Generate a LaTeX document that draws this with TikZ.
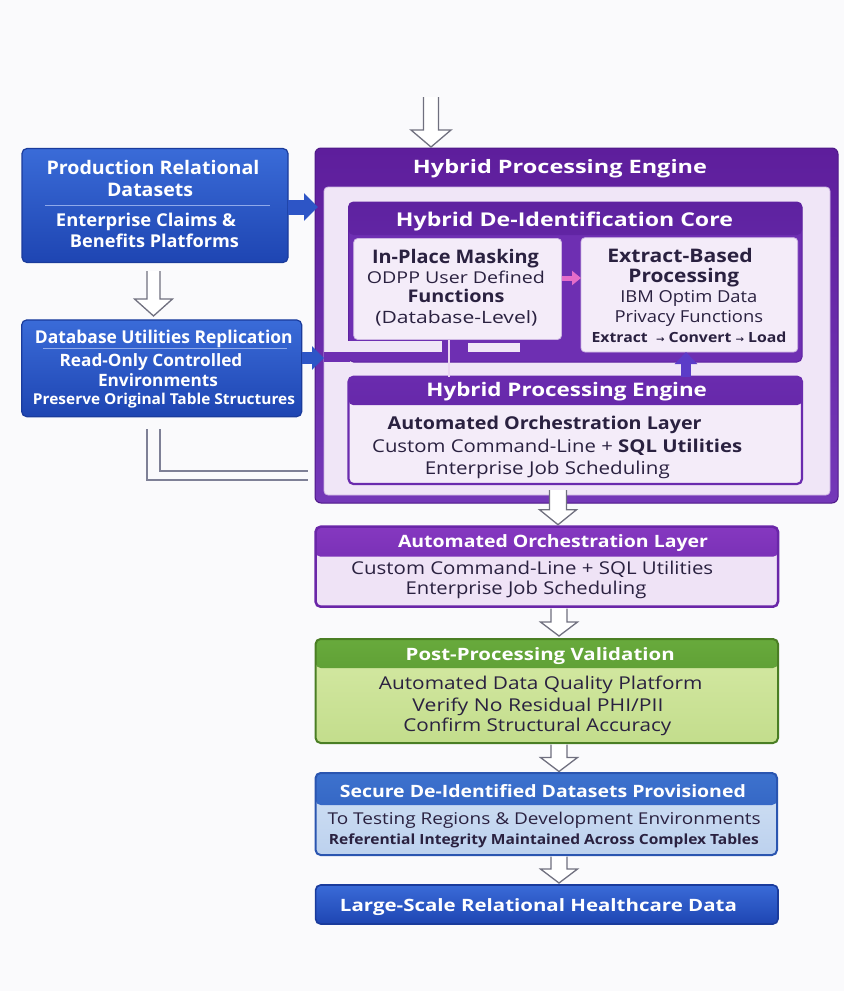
\documentclass[tikz,border=0pt]{standalone}
\usepackage{graphicx}
\usepackage{fontspec}
\setmainfont{Open Sans}
\newfontfamily\symfont{DejaVu Sans}
\usetikzlibrary{calc,arrows.meta}

% colours
\definecolor{bgc}{HTML}{FAFAFC}
\definecolor{blueTop}{HTML}{3A6BD8}
\definecolor{blueBot}{HTML}{1E45B2}
\definecolor{blueEdge}{HTML}{1A3B9C}
\definecolor{sepBlue}{HTML}{8FA9EA}
\definecolor{outerTop}{HTML}{5E1E9C}
\definecolor{outerBot}{HTML}{7438B8}
\definecolor{outerEdge}{HTML}{4E1888}
\definecolor{purCore}{HTML}{6E2FB2}
\definecolor{purHead}{HTML}{5E22A0}
\definecolor{purEdge}{HTML}{6A2BAE}
\definecolor{lav}{HTML}{F0E6F7}
\definecolor{lavEdge}{HTML}{CDB5E3}
\definecolor{lavBox}{HTML}{F4ECF9}
\definecolor{orchHeadTop}{HTML}{8538C0}
\definecolor{orchHeadBot}{HTML}{6A26A8}
\definecolor{orchBody}{HTML}{EFE3F6}
\definecolor{txtDark}{HTML}{2A2140}
\definecolor{grnTop}{HTML}{68AA3C}
\definecolor{grnBot}{HTML}{4E8A27}
\definecolor{grnBodyTop}{HTML}{D6EAA6}
\definecolor{grnBodyBot}{HTML}{C3DD8C}
\definecolor{grnEdge}{HTML}{4A7E24}
\definecolor{secTop}{HTML}{3D72CE}
\definecolor{secBot}{HTML}{2A58B8}
\definecolor{secBodyTop}{HTML}{D3E2F4}
\definecolor{secBodyBot}{HTML}{BCD1EE}
\definecolor{secEdge}{HTML}{2A55B0}
\definecolor{arrowGray}{HTML}{70707F}
\definecolor{lineGray}{HTML}{7E8096}
\definecolor{pinkArr}{HTML}{E46CC9}
\definecolor{upArr}{HTML}{5B3CC8}
\definecolor{flowBlue}{HTML}{2D55C6}
\definecolor{lightLink}{HTML}{EAD6F2}

\newcommand\fsz[1]{\fontsize{#1}{#1}\selectfont}
% one line of text, set to a given width, centred on its capitals
\newcommand\fw[2]{\resizebox{#1pt}{\height}{\raisebox{0pt}[\fontcharht\font`H][0pt]{#2}}}
% open block arrow pointing down: start, tip, half shaft, half head, head length
\newcommand\hollowdown[5]{%
  \filldraw[hollow] let \p1=(#1), \p2=(#2) in
    (\x2-#3pt,\y1) -- (\x2-#3pt,\y2+#5pt) -- (\x2-#4pt,\y2+#5pt) -- (\x2,\y2)
    -- (\x2+#4pt,\y2+#5pt) -- (\x2+#3pt,\y2+#5pt) -- (\x2+#3pt,\y1);}

\tikzset{
  boxbase/.style={inner sep=0pt, outer sep=0pt},
  bluebox/.style={boxbase, draw=blueEdge, line width=1.2pt, rounded corners=5pt,
    top color=blueTop, bottom color=blueBot},
  hdr/.style n args={3}{path picture={\shade[top color=#1, bottom color=#2]
    (path picture bounding box.north west) rectangle
    ([yshift=-#3pt]path picture bounding box.north east);}},
  tW/.style={inner sep=0pt, text=white, font=\fsz{#1}\bfseries},
  tD/.style={inner sep=0pt, text=txtDark, font=\fsz{#1}},
  tDB/.style={inner sep=0pt, text=txtDark, font=\fsz{#1}\bfseries},
  hollow/.style={draw=arrowGray, fill=white, line width=1.3pt, line join=miter},
  gline/.style={draw=lineGray, line width=1.6pt},
  sepline/.style={draw=sepBlue, line width=0.8pt},
  flowA/.style={draw=flowBlue, line width=15pt, -{Triangle[length=14pt,width=27pt]}},
  flowB/.style={draw=flowBlue, line width=12pt, -{Triangle[length=12pt,width=23pt]}},
  pinkA/.style={draw=pinkArr, line width=5pt, -{Triangle[length=9pt,width=14pt]}},
  upA/.style={draw=upArr, line width=10pt, -{Triangle[length=12pt,width=22pt]}},
}

\begin{document}
\begin{tikzpicture}[x=1pt,y=-1pt]
\fill[bgc] (0,0) rectangle (844,991);
\useasboundingbox (0,0) rectangle (844,991);

% ---------- left column: sources ----------
\node[bluebox, minimum width=266pt, minimum height=114pt] (prod) at (155,205.5) {};
\draw[sepline] (45,205) -- (270,205);
\node[tW=18.7] (prodT1) at (153,168) {\fw{213}{Production Relational}};
\node[tW=18.7] (prodT2) at (150,190) {\fw{86}{Datasets}};
\node[tW=17.7] (prodB1) at (146,220) {\fw{180}{Enterprise Claims \&}};
\node[tW=17.7] (prodB2) at (154.5,241) {\fw{169}{Benefits Platforms}};

\node[bluebox, minimum width=280pt, minimum height=96.7pt] (repl) at (161.7,368.3) {};
\draw[sepline] (43,348) -- (287,348);
\node[tW=17.7] (replT) at (163.8,336.7) {\fw{257.7}{Database Utilities Replication}};
\node[tW=17] (replB1) at (151,360.7) {\fw{182.7}{Read-Only Controlled}};
\node[tW=17] (replB2) at (158,380.7) {\fw{120}{Environments}};
\node[tW=15] (replB3) at (164,399.3) {\fw{262}{Preserve Original Table Structures}};

% ---------- hybrid processing engine (outer frame) ----------
\node[boxbase, draw=outerEdge, line width=1pt, rounded corners=6pt,
  top color=outerTop, bottom color=outerBot,
  minimum width=523pt, minimum height=355pt] (outer) at (576.5,325.5) {};
\node[tW=18.5] (outerT) at (560,167) {\fw{294}{Hybrid Processing Engine}};
\node[boxbase, fill=lav, draw=lavEdge, line width=0.8pt, rounded corners=4pt,
  minimum width=506pt, minimum height=308pt] (panel) at (577,341) {};

% de-identification core
\node[boxbase, fill=purCore, draw=purHead, line width=1pt, rounded corners=5pt,
  hdr={purHead}{purCore}{33}, minimum width=453.5pt, minimum height=160pt]
  (core) at (575.25,282) {};
\fill[lav] (347,341) rectangle (442,352);
\fill[lav] (468,343) rectangle (520,352);
\fill[purCore] (324,352) rectangle (350,362);
\node[tW=19] (coreT) at (564.5,220) {\fw{337}{Hybrid De-Identification Core}};

\node[boxbase, fill=lavBox, draw=lavEdge, line width=0.8pt, rounded corners=4pt,
  minimum width=207.8pt, minimum height=101pt] (ipBox) at (457.6,289) {};
\node[tDB=18.7] (ipT1) at (455.5,256.7) {\fw{167}{In-Place Masking}};
\node[tD=16.3] (ipT2) at (455.9,277.7) {\fw{178}{ODPP User Defined}};
\node[tDB=17.5] (ipT3) at (456,296.7) {\fw{97}{Functions}};
\node[tD=17] (ipT4) at (456.4,317.7) {\fw{162}{(Database-Level)}};

\node[boxbase, fill=lavBox, draw=lavEdge, line width=0.8pt, rounded corners=4pt,
  minimum width=216.7pt, minimum height=114.3pt] (exBox) at (689.35,294.85) {};
\node[tDB=18.7] (exT1) at (680,256) {\fw{145.5}{Extract-Based}};
\node[tDB=18.7] (exT2) at (683.8,276) {\fw{110.8}{Processing}};
\node[tD=16.5] (exT3) at (688.8,296.7) {\fw{137}{IBM Optim Data}};
\node[tD=16.5] (exT4) at (688.8,316.7) {\fw{148.6}{Privacy Functions}};
\node[tDB=14] (exT5) at (689,337.7)
  {\fw{195}{Extract\ \ {\symfont\fsz{9}→} Convert {\symfont\fsz{9}→} Load}};

% orchestration block inside the engine
\node[boxbase, fill=lavBox, draw=purEdge, line width=2.2pt, rounded corners=5pt,
  hdr={purEdge}{purHead}{28.5}, minimum width=453.5pt, minimum height=107.3pt]
  (engine) at (575.25,430.35) {};
\node[tW=18.7] (enT) at (566.7,390) {\fw{280.6}{Hybrid Processing Engine}};
\node[tDB=17.7] (enB1) at (544.7,423) {\fw{314}{Automated Orchestration Layer}};
\node[tD=17.7] (enB2) at (557.2,446) {\fw{370}{Custom Command-Line + \textbf{SQL Utilities}}};
\node[tD=17.7] (enB3) at (547.3,468.3) {\fw{245}{Enterprise Job Scheduling}};

% links inside the engine
\coordinate (pky) at (0,278);
\coordinate (upx) at (686,0);
\coordinate (lk) at (449,0);
\draw[pinkA] (ipBox.east |- pky) -- (exBox.west |- pky);
\draw[upA] (engine.north -| upx) -- (exBox.south -| upx);
\draw[lightLink, line width=2.5pt] (ipBox.south -| lk) -- (engine.north -| lk);

% ---------- lower column ----------
\node[boxbase, fill=orchBody, draw=orchHeadBot, line width=2.5pt, rounded corners=5pt,
  hdr={orchHeadTop}{orchHeadBot}{30}, minimum width=462.4pt, minimum height=80pt]
  (orch) at (546.8,566.7) {};
\node[tW=17] (orT) at (553,541.7) {\fw{310}{Automated Orchestration Layer}};
\node[tD=17.7] (orB1) at (532.2,567.7) {\fw{362}{Custom Command-Line + SQL Utilities}};
\node[tD=17.7] (orB2) at (526,588.3) {\fw{240.7}{Enterprise Job Scheduling}};

\node[boxbase, top color=grnBodyTop, bottom color=grnBodyBot, draw=grnEdge,
  line width=2pt, rounded corners=5pt, hdr={grnTop}{grnBot}{29},
  minimum width=462.4pt, minimum height=104pt] (valid) at (546.8,691) {};
\node[tW=17] (grT) at (540.2,654) {\fw{269}{Post-Processing Validation}};
\node[tD=17.7] (grB1) at (540.7,682.7) {\fw{323.5}{Automated Data Quality Platform}};
\node[tD=17.7] (grB2) at (538,705) {\fw{251}{Verify No Residual PHI/PII}};
\node[tD=17.7] (grB3) at (537.3,725) {\fw{268}{Confirm Structural Accuracy}};

\node[boxbase, top color=secBodyTop, bottom color=secBodyBot, draw=secEdge,
  line width=2pt, rounded corners=5pt, hdr={secTop}{secBot}{32},
  minimum width=461.4pt, minimum height=82pt] (secure) at (546.3,814) {};
\node[tW=17] (seT) at (542.8,791) {\fw{406}{Secure De-Identified Datasets Provisioned}};
\node[tD=16.3] (seB1) at (544.2,819) {\fw{433}{To Testing Regions \& Development Environments}};
\node[tDB=14] (seB2) at (543.9,839.3) {\fw{430}{Referential Integrity Maintained Across Complex Tables}};

\node[bluebox, line width=1.6pt, minimum width=462.4pt, minimum height=39pt]
  (large) at (546.8,904.5) {};
\node[tW=17] (laT) at (538.5,905.7) {\fw{397}{Large-Scale Relational Healthcare Data}};

% ---------- connectors ----------
\coordinate (b1y) at (0,207);
\coordinate (b2y) at (0,358);
\draw[flowA] (prod.east |- b1y) -- ($(outer.west |- b1y)+(3,0)$);
\draw[flowB] (repl.east |- b2y) -- (panel.west |- b2y);

\coordinate (dlA) at (147,429);
\coordinate (dlB) at (160,429);
\coordinate (dlAe) at (308,480);
\coordinate (dlBe) at (308,471);
\draw[gline] (dlA) |- (dlAe);
\draw[gline] (dlB) |- (dlBe);

\coordinate (a0) at (431,97);
\coordinate (a1) at (153.5,271);
\coordinate (a2) at (558,490);
\coordinate (a3) at (559,608.5);
\coordinate (a4) at (559,744.5);
\coordinate (a5) at (559,856.5);
\hollowdown{a0}{$(a0 |- outer.north)+(0,-1)$}{7.5}{20}{17}
\hollowdown{a1}{$(a1 |- repl.north)+(0,-4)$}{6.5}{19}{17}
\hollowdown{a2}{$(a2 |- orch.north)+(0,-2)$}{8.5}{18.5}{15}
\hollowdown{a3}{$(a3 |- valid.north)+(0,-3)$}{8}{18.5}{14}
\hollowdown{a4}{$(a4 |- secure.north)+(0,-1.5)$}{8}{18.5}{14}
\hollowdown{a5}{$(a5 |- large.north)+(0,-2)$}{8}{18.5}{14}
\end{tikzpicture}
\end{document}
